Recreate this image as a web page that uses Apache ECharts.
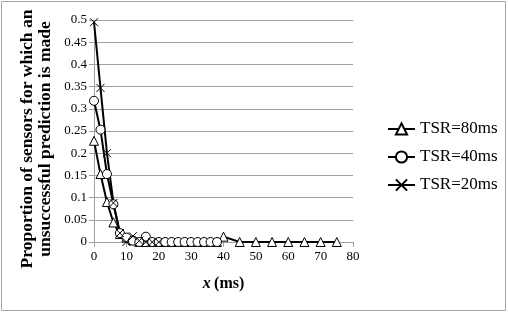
<!DOCTYPE html>
<html lang="en">
<head>
    <meta charset="UTF-8">
    <title>TSR chart</title>
    <script type="text/javascript" src="https://cdn.jsdelivr.net/npm/echarts@6/dist/echarts.min.js"></script>
    <style type="text/css">
        body{ margin: 0; }
        #main{ width: 508px; height: 314px; }
    </style>
</head>
<body>
    <div id="main"></div>
</body>

<script type="text/javascript">
    // x in ms
    var x80 = [0,2,4,6,8,10,12,14,16,18,20,22,24,26,28,30,32,34,36,38,40,45,50,55,60,65,70,75];
    var y80 = [0.228,0.153,0.09,0.044,0.018,0.01,0.004,0,0,0,0,0,0,0,0,0,0,0,0,0,0.012,0,0,0,0,0,0,0];

    var x40 = [0,2,4,6,8,10,12,14,16,18,20,22,24,26,28,30,32,34,36,38];
    var y40 = [0.318,0.253,0.153,0.085,0.02,0.01,0.003,0,0.012,0,0,0,0,0,0,0,0,0,0,0];

    var x20 = [0,2,4,6,8,10,12,14,16,18,20];
    var y20 = [0.495,0.347,0.2,0.088,0.02,0,0.013,0.003,0,0,0];

    var seriesNames = ['TSR=80ms','TSR=40ms','TSR=20ms'];

    function pairs(xs, ys) {
        var out = [];
        for (var i = 0; i < xs.length; i++) {
            out.push([xs[i], ys[i]]);
        }
        return out;
    }

    var serif = 'Liberation Serif';
    var crossPath = 'path://M0,0L10,10M10,0L0,10';

    function lineSeries(name, data, symbol, size) {
        return {
            name: name,
            type: 'line',
            data: data,
            symbol: symbol,
            symbolSize: size,
            showAllSymbol: true,
            lineStyle: {color: '#000', width: 2},
            itemStyle: {color: '#fff', borderColor: '#000', borderWidth: 1},
            emphasis: {disabled: true},
            z: 3
        };
    }

    var chart = echarts.init(document.getElementById('main'));
    var options = {
        animation: false,
        graphic: [{
            type: 'rect',
            shape: {x: 1.5, y: 1.5, width: 504, height: 309},
            style: {fill: 'none', stroke: '#a6a6a6', lineWidth: 1},
            silent: true
        }, {
            // y axis title, centred a bit below the plot middle like the original
            type: 'text',
            x: 36,
            y: 139,
            rotation: Math.PI / 2,
            silent: true,
            style: {
                text: 'Proportion of sensors for which an\nunsuccessful prediction is made',
                font: 'bold 17.5px "Liberation Serif"',
                lineHeight: 18,
                fill: '#000',
                align: 'center',
                verticalAlign: 'middle'
            }
        }],
        grid: {left: 94, right: 155, top: 20, bottom: 72},
        legend: {
            orient: 'vertical',
            left: 382,
            top: 115,
            itemWidth: 27,
            itemHeight: 14,
            itemGap: 10,
            data: seriesNames,
            textStyle: {fontFamily: serif, fontSize: 17, color: '#000', lineHeight: 18}
        },
        xAxis: {
            type: 'value',
            min: 0,
            max: 80,
            interval: 10,
            splitLine: {show: false},
            axisLine: {lineStyle: {color: '#a0a0a0'}},
            axisTick: {show: true, length: 5, lineStyle: {color: '#a0a0a0'}},
            axisLabel: {fontFamily: serif, fontSize: 13, color: '#000', margin: 8},
            name: '{i|x} {b|(ms)}',
            nameLocation: 'middle',
            nameGap: 34,
            nameTextStyle: {
                rich: {
                    i: {fontFamily: serif, fontSize: 16, fontWeight: 'bold', fontStyle: 'italic', color: '#000'},
                    b: {fontFamily: serif, fontSize: 16, fontWeight: 'bold', color: '#000'}
                }
            }
        },
        yAxis: {
            type: 'value',
            min: 0,
            max: 0.5,
            interval: 0.05,
            splitLine: {show: true, lineStyle: {color: '#a0a0a0'}},
            axisLine: {show: true, lineStyle: {color: '#a0a0a0'}},
            axisTick: {show: true, length: 5, lineStyle: {color: '#a0a0a0'}},
            axisLabel: {
                fontFamily: serif, fontSize: 13, color: '#000', margin: 7,
                formatter: function (v) { return String(Math.round(v * 100) / 100); }
            }
        },
        series: [
            lineSeries(seriesNames[0], pairs(x80, y80), 'triangle', 9),
            lineSeries(seriesNames[1], pairs(x40, y40), 'circle', 9),
            lineSeries(seriesNames[2], pairs(x20, y20), crossPath, 8)
        ]
    };
    chart.setOption(options);
</script>
</html>
